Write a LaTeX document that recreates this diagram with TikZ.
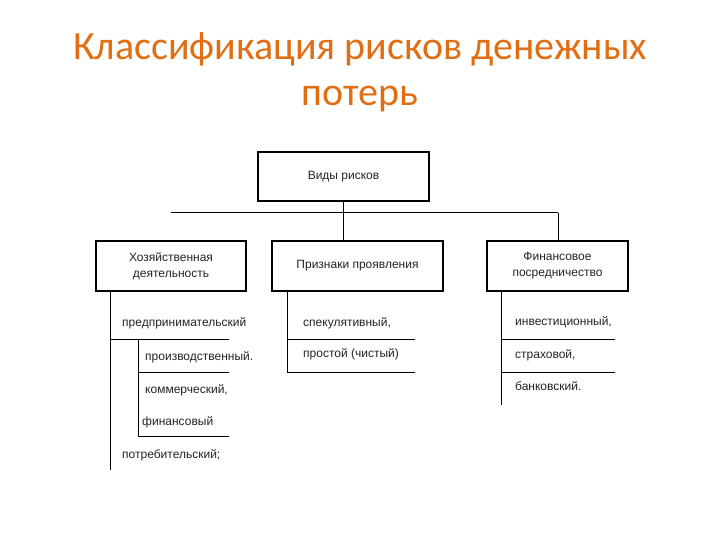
\documentclass[tikz,border=0pt]{standalone}
\usepackage{fontspec}
\setmainfont{Liberation Sans}
\newfontfamily\titlefont{Carlito}
\usetikzlibrary{positioning}

\definecolor{titleorange}{RGB}{226,110,20}
\definecolor{inkgray}{RGB}{35,35,35}

\tikzset{
  heading/.style={anchor=base, inner sep=0pt, text=titleorange, font=\titlefont\fontsize{40}{48}\selectfont},
  riskbox/.style={draw, line width=1.1pt, inner sep=2pt, align=center, text=inkgray, font=\fontsize{12}{16}\selectfont},
  item/.style={anchor=base west, inner sep=0pt, text=inkgray, font=\fontsize{12}{15}\selectfont},
  rule/.style={line width=1pt},
}

\begin{document}
\begin{tikzpicture}[x=1pt, y=-1pt]

    \useasboundingbox (0,0) rectangle (720,540);

    % Title
    \node[heading] (title1) at (360,60) {Классификация рисков денежных};
    \node[heading] (title2) at (360,106) {потерь};

    % Top box and the three groups
    \node[riskbox, minimum width=171pt, minimum height=49pt] (types) at (343.5,176.5) {Виды рисков};
    \node[riskbox, minimum width=150pt, minimum height=50pt] (econ) at (171,266) {Хозяйственная\\деятельность};
    \node[riskbox, minimum width=171pt, minimum height=50pt] (signs) at (357.5,266) {Признаки проявления};
    \node[riskbox, minimum width=141pt, minimum height=50pt] (fin) at (557.5,266) {Финансовое\\посредничество};

    % Bus line between the top box and the groups
    \coordinate (busL) at (171,213);
    \coordinate (busR) at (558,213);
    \draw[rule] (busL) -- (busR);
    \draw[rule] (types.south) -- (types.south |- signs.north);
    \draw[rule] (busR) -- (busR |- fin.north);

    % Left group: economic activity
    \coordinate (eTop) at (econ.south -| 110,0);
    \coordinate (eEnd) at (110,470);
    \coordinate (eSub) at (138,339);
    \coordinate (eSubEnd) at (138,436);
    \draw[rule] (eTop) -- (eEnd);
    \draw[rule] (eSub) -- (eSubEnd);
    \node[item] (ent) at (122,326) {предпринимательский};
    \node[item] (prod) at (145,360) {производственный.};
    \node[item] (comm) at (145,393) {коммерческий,};
    \node[item] (finan) at (142,425) {финансовый};
    \node[item] (cons) at (122,458) {потребительский;};
    \draw[rule] (110,339) -- (229,339);
    \foreach \y in {372,436}
        \draw[rule] (138,\y) -- (229,\y);

    % Middle group: signs
    \coordinate (sTop) at (signs.south -| 287,0);
    \coordinate (sEnd) at (287,372);
    \draw[rule] (sTop) -- (sEnd);
    \node[item] (spec) at (303,326) {спекулятивный,};
    \node[item] (pure) at (303,357) {простой (чистый)};
    \foreach \y in {339,372}
        \draw[rule] (287,\y) -- (415,\y);

    % Right group: financial intermediation
    \coordinate (fTop) at (fin.south -| 501,0);
    \coordinate (fEnd) at (501,405);
    \draw[rule] (fTop) -- (fEnd);
    \node[item] (inv) at (515,325) {инвестиционный,};
    \node[item] (ins) at (515,358) {страховой,};
    \node[item] (bank) at (515,390) {банковский.};
    \foreach \y in {339,372}
        \draw[rule] (501,\y) -- (615,\y);

\end{tikzpicture}
\end{document}
